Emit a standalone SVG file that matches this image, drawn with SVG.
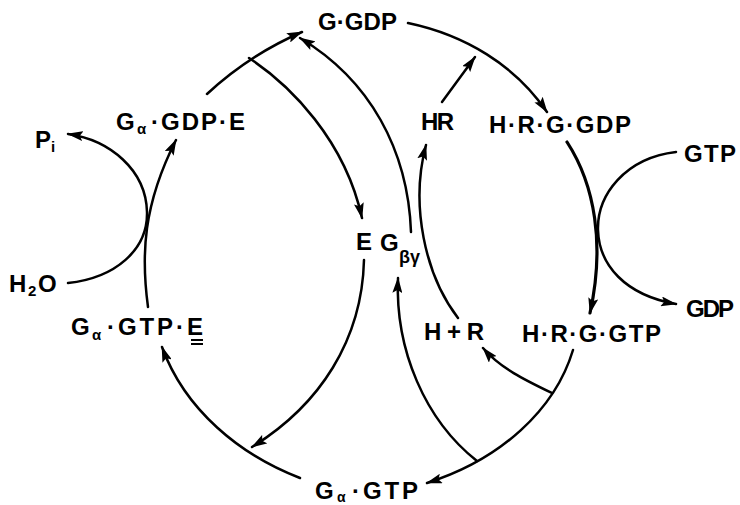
<svg xmlns="http://www.w3.org/2000/svg" width="740" height="505" viewBox="0 0 740 505">
<defs>
<marker id="ah" markerUnits="userSpaceOnUse" markerWidth="16" markerHeight="10" refX="15" refY="5" orient="auto">
<path d="M0,0 L16,5 L0,10 L3,5 z" fill="#000"/>
</marker>
<style>
.t{font-family:"Liberation Sans",Arial,sans-serif;font-size:24px;font-weight:bold;fill:#000}
.s{font-family:"Liberation Sans",Arial,sans-serif;font-size:15px;font-weight:bold;fill:#000}
.c{fill:none;stroke:#000;stroke-width:2.5;stroke-linecap:round}
.a{marker-end:url(#ah)}
</style>
</defs>
<rect width="740" height="505" fill="#fff"/>
<g id="connectors">
<path class="c a" d="M300,478 C240,455 185,410 162,347"/>
<path class="c a" d="M148,307 C141,255 143,205 176,140"/>
<path class="c a" d="M207,94 C235,68 265,48 302,32"/>
<path class="c a" d="M249,58 C290,85 345,140 362,218"/>
<path class="c a" d="M364,260 C362,340 320,405 252,447"/>
<path class="c a" d="M411,232 C408,150 370,80 300,38"/>
<path class="c a" d="M442,102 L475,57"/>
<path class="c a" d="M408,23 C465,35 515,65 547,112"/>
<path class="c a" d="M458,318 C425,275 410,205 426,145"/>
<path class="c a" d="M567,142 C595,185 605,245 590,313" style="stroke-width:3.2"/>
<path class="c a" d="M676,152 C625,158 597,195 598,230 C599,265 625,295 676,304"/>
<path class="c a" d="M573,350 C555,410 500,460 427,483"/>
<path class="c a" d="M552,393 C525,380 500,368 483,348"/>
<path class="c a" d="M477,461 C425,420 395,350 398,278"/>
<path class="c a" d="M68,283 C115,278 148,250 147,212 C146,170 110,140 68,134"/>
</g>
<g id="n-G-GDP"><text class="t" x="318" y="30" textLength="79" lengthAdjust="spacing">G·GDP</text></g>
<g id="n-Ga-GDP-E"><text class="t" x="116" y="130">G</text><text class="s" x="137" y="134">α</text><text class="t" x="151" y="130" textLength="94" lengthAdjust="spacing">·GDP·E</text></g>
<g id="n-Pi"><text class="t" x="35" y="148">P</text><text class="s" x="51" y="152">i</text></g>
<g id="n-H2O"><text class="t" x="9" y="292">H</text><text class="s" x="28" y="296">2</text><text class="t" x="38" y="292">O</text></g>
<g id="n-Ga-GTP-E"><text class="t" x="71" y="335">G</text><text class="s" x="92" y="340">α</text><text class="t" x="107" y="335" textLength="96" lengthAdjust="spacing">·GTP·E</text><line x1="191" y1="340" x2="203" y2="340" stroke="#000" stroke-width="2"/><line x1="191" y1="344" x2="203" y2="344" stroke="#000" stroke-width="2"/></g>
<g id="n-E"><text class="t" x="356" y="250">E</text></g>
<g id="n-Gby"><text class="t" x="380" y="251">G</text><text class="s" x="399" y="263" style="font-size:18px">βγ</text></g>
<g id="n-HR"><text class="t" x="421" y="130" textLength="33" lengthAdjust="spacing">HR</text></g>
<g id="n-HRG-GDP"><text class="t" x="489" y="133" textLength="142" lengthAdjust="spacing">H·R·G·GDP</text></g>
<g id="n-GTP"><text class="t" x="684" y="162" textLength="52" lengthAdjust="spacing">GTP</text></g>
<g id="n-GDP"><text class="t" x="686" y="317" textLength="48" lengthAdjust="spacing">GDP</text></g>
<g id="n-H-R"><text class="t" x="424" y="340" textLength="60" lengthAdjust="spacing">H+R</text></g>
<g id="n-HRG-GTP"><text class="t" x="522" y="342" textLength="139" lengthAdjust="spacing">H·R·G·GTP</text></g>
<g id="n-Ga-GTP"><text class="t" x="315" y="499">G</text><text class="s" x="337" y="502" style="font-size:14px">α</text><text class="t" x="352" y="499" textLength="66" lengthAdjust="spacing">·GTP</text></g>
</svg>
